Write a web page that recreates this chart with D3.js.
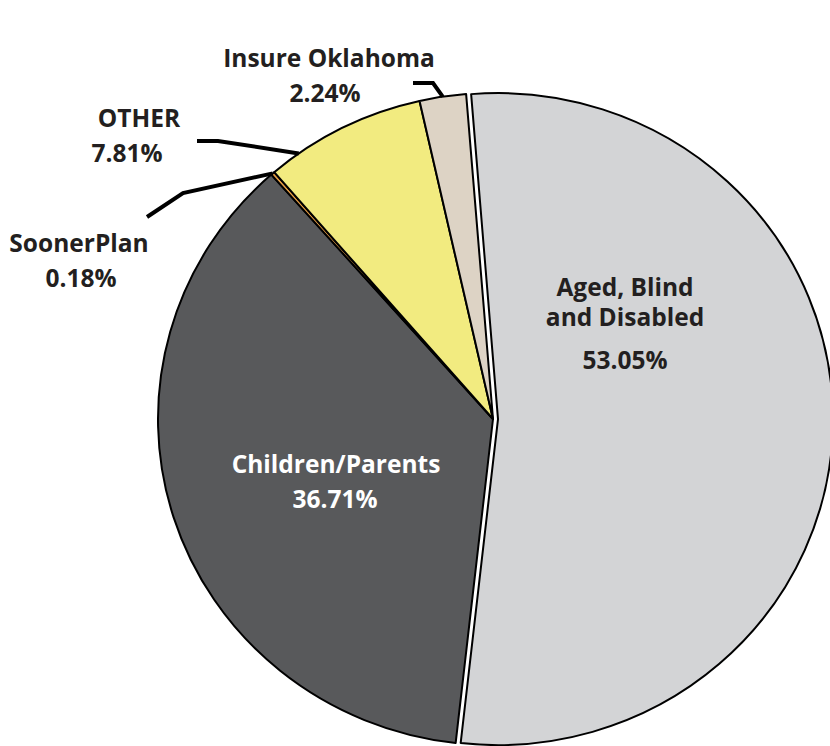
<!DOCTYPE html>
<html>
<head>
<meta charset="utf-8">
<script src="https://cdn.jsdelivr.net/npm/d3@7"></script>
<style>
  html, body { margin: 0; padding: 0; background: #fff; }
  svg { display: block; }
  text { font-family: "Open Sans", Lato, sans-serif; font-weight: 700; }
</style>
</head>
<body>
<svg id="chart" width="830" height="746"></svg>
<script>
// Enrollment share by program
const programs = ["Aged, Blind and Disabled", "Children/Parents", "SoonerPlan", "OTHER", "Insure Oklahoma"];
const shares = [53.05, 36.71, 0.18, 7.81, 2.24];
const shareLabels = ["53.05%", "36.71%", "0.18%", "7.81%", "2.24%"];
const fills = ["#D3D4D6", "#58595B", "#E9A046", "#F2EB80", "#DDD3C5"];

const W = 830, H = 746;
const cx = 493, cy = 419;
const rx = 335, ry = 326;
const startDeg = -4.6;
const fontSize = 24.5;

const svg = d3.select("#chart");

const pie = d3.pie()
  .sort(null)
  .value(d => d.value)
  .startAngle(startDeg * Math.PI / 180)
  .endAngle((startDeg + 360) * Math.PI / 180);

const data = programs.map((p, i) => ({ name: p, value: shares[i], label: shareLabels[i], fill: fills[i] }));
const arcs = pie(data);

const arc = d3.arc().innerRadius(0).outerRadius(rx);

// the pie is drawn slightly flattened vertically
const g = svg.append("g")
  .attr("transform", `translate(${cx},${cy}) scale(1,${ry / rx})`);

// the largest slice is pulled out a little
const explode = i => (i === 0 ? 5 : 0);

g.selectAll("path.slice")
  .data(arcs)
  .join("path")
  .attr("class", "slice")
  .attr("d", arc)
  .attr("fill", d => d.data.fill)
  .attr("stroke", "#000")
  .attr("stroke-width", 2)
  .attr("stroke-linejoin", "round")
  .attr("transform", (d, i) => {
    const a = (d.startAngle + d.endAngle) / 2;
    const e = explode(i);
    return `translate(${e * Math.sin(a)},${-e * Math.cos(a)})`;
  });

// screen position of a point at radius r along angle a
function pt(a, r) {
  return [cx + r * Math.sin(a), cy - r * Math.cos(a) * (ry / rx)];
}

function label(x, y, s, color) {
  return svg.append("text")
    .attr("text-anchor", "middle")
    .attr("fill", color)
    .attr("font-size", fontSize)
    .attr("x", x).attr("y", y)
    .text(s);
}

// inside labels
const inside = [
  { i: 0, lines: ["Aged, Blind", "and Disabled"], x: 625, y: 296, gap: 30, pctX: 625, pctY: 369, color: "#231F20" },
  { i: 1, lines: ["Children/Parents"], x: 336, y: 473, gap: 30, pctX: 335, pctY: 508, color: "#FFFFFF" }
];
inside.forEach(lb => {
  lb.lines.forEach((s, k) => label(lb.x, lb.y + k * lb.gap, s, lb.color));
  label(lb.pctX, lb.pctY, arcs[lb.i].data.label, lb.color);
});

// outside labels with leader lines
const outside = [
  { i: 4, name: "Insure Oklahoma", x: 329, y: 67, pctX: 325, pctY: 102,
    elbow: [[413, 83], [433, 83]], frac: 0.5 },
  { i: 3, name: "OTHER", x: 139, y: 127, pctX: 127, pctY: 162,
    elbow: [[197, 141], [218, 141]], frac: 0.19 },
  { i: 2, name: "SoonerPlan", x: 79, y: 252, pctX: 81, pctY: 287,
    elbow: [[147, 217], [183, 193]], frac: 0.5 }
];
outside.forEach(lb => {
  const d = arcs[lb.i];
  const a = d.startAngle + (d.endAngle - d.startAngle) * lb.frac;
  const end = pt(a, rx);
  svg.append("path")
    .attr("d", d3.line()(lb.elbow.concat([end])))
    .attr("fill", "none")
    .attr("stroke", "#000")
    .attr("stroke-width", 4);
  label(lb.x, lb.y, lb.name, "#231F20");
  label(lb.pctX, lb.pctY, d.data.label, "#231F20");
});
</script>
</body>
</html>
